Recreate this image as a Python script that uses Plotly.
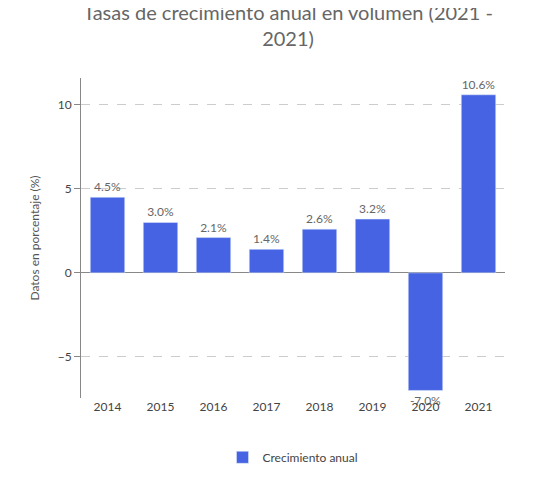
import plotly.graph_objects as go

years = ["2014","2015","2016","2017","2018","2019","2020","2021"]
values = [4.5, 3.0, 2.1, 1.4, 2.6, 3.2, -7.0, 10.6]
labels = [f"{v:.1f}%" for v in values]

fig = go.Figure(go.Bar(
    x=years, y=values, text=labels, textposition="outside",
    textfont=dict(color="#666", size=12), marker_color="#4563E3",
    name="Crecimiento anual", showlegend=True, width=0.65, cliponaxis=False))

fig.update_layout(
    width=560, height=489, paper_bgcolor="white", plot_bgcolor="white",
    font=dict(family="Lato", color="#555"),
    title=dict(text="Tasas de crecimiento anual en volumen (2021 -<br>2021)",
               x=0.5, xanchor="center", y=0.975, yanchor="top",
               font=dict(size=20, color="#666")),
    margin=dict(l=73, r=63, t=70, b=99),
    legend=dict(orientation="h", x=0.5, xanchor="center", y=-0.14, yanchor="top",
                font=dict(size=12, color="#444")),
    xaxis=dict(showline=False, ticks="", tickfont=dict(size=12, color="#444")),
    yaxis=dict(range=[-7.45, 11.6], tickvals=[-5, 0, 5, 10],
               showline=True, linecolor="#888", linewidth=1,
               gridcolor="#ccc", griddash="dash", zeroline=True,
               zerolinecolor="#888", zerolinewidth=1,
               ticks="outside", ticklen=6, tickcolor="#888",
               tickfont=dict(size=12, color="#444"),
               title=dict(text="Datos en porcentaje (%)", font=dict(size=12, color="#555"))),
    annotations=[dict(text="Fuente: DANE", xref="paper", yref="paper", x=-0.11, y=-0.27,
                      xanchor="left", yanchor="top", showarrow=False,
                      font=dict(size=11, color="#222"))]
)
fig.write_html("out.html")
